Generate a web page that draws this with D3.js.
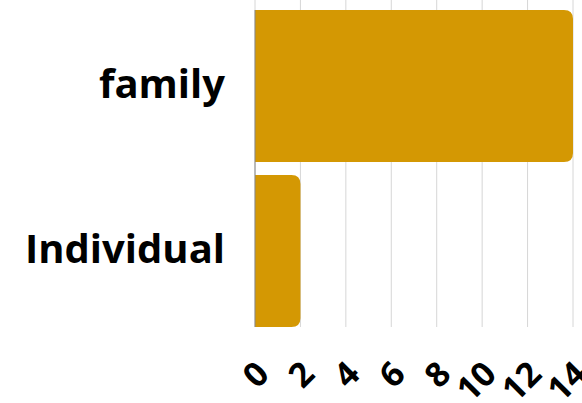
<!DOCTYPE html>
<html>
<head>
<meta charset="utf-8">
<script src="https://cdn.jsdelivr.net/npm/d3@7"></script>
<style>
  body { margin: 0; background: #fff; }
  text { font-family: "Open Sans", sans-serif; font-weight: 700; fill: #000; }
</style>
</head>
<body>
<svg width="582" height="403"></svg>
<script>
const categories = ['family', 'Individual'];
const values = [14, 2];
const xTicks = [0, 2, 4, 6, 8, 10, 12, 14];

const svg = d3.select('svg');
const plotLeft = 255, plotRight = 573, plotTop = 10, plotBottom = 327;

const x = d3.scaleLinear().domain([0, 14]).range([plotLeft, plotRight]);
const y = d3.scaleBand().domain(categories).range([plotTop, plotBottom]).paddingInner(0.08).paddingOuter(0);

// gridlines
svg.append('g')
    .selectAll('line')
    .data(xTicks)
    .join('line')
    .attr('x1', (d) => x(d))
    .attr('x2', (d) => x(d))
    .attr('y1', 0)
    .attr('y2', plotBottom)
    .attr('stroke', '#d6d6d6')
    .attr('stroke-width', 1);

// bars with rounded right end
const r = 9;
svg.append('g')
    .selectAll('path')
    .data(values)
    .join('path')
    .attr('d', (d, i) => {
        const x0 = x(0), x1 = x(d), y0 = y(categories[i]), h = y.bandwidth();
        return `M${x0},${y0}H${x1 - r}Q${x1},${y0} ${x1},${y0 + r}V${y0 + h - r}Q${x1},${y0 + h} ${x1 - r},${y0 + h}H${x0}Z`;
    })
    .attr('fill', '#d49803');

// y axis line
svg.append('line')
    .attr('x1', plotLeft).attr('x2', plotLeft)
    .attr('y1', plotTop).attr('y2', plotBottom)
    .attr('stroke', '#888').attr('stroke-width', 1);

// category labels
svg.append('g')
    .selectAll('text')
    .data(categories)
    .join('text')
    .attr('x', plotLeft - 30)
    .attr('y', (d) => y(d) + y.bandwidth() / 2)
    .attr('dy', '0.3em')
    .attr('text-anchor', 'end')
    .style('font-size', '40px')
    .text((d) => d);

// x tick labels rotated
svg.append('g')
    .selectAll('text')
    .data(xTicks)
    .join('text')
    .attr('transform', (d) => `translate(${x(d) + 16},${376}) rotate(-45)`)
    .attr('text-anchor', 'end')
    .style('font-size', '34px')
    .text((d) => d);
</script>
</body>
</html>
